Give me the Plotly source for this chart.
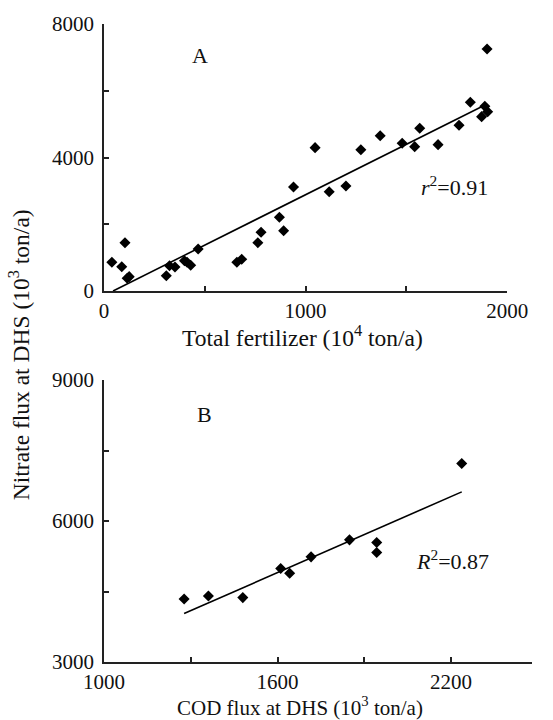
import plotly.graph_objects as go

# Panel A: Total fertilizer (10^4 ton/a) vs Nitrate flux (10^3 ton/a)
fert_x = [39, 88, 104, 115, 125, 309, 325, 352, 399, 412, 430, 467, 659, 683, 763, 779,
          870, 891, 940, 1047, 1117, 1200, 1274, 1370, 1479, 1541, 1566, 1657, 1761, 1817,
          1873, 1889, 1903, 1900]
nitA_y = [859, 729, 1448, 380, 430, 459, 759, 719, 909, 859, 769, 1258, 859, 949, 1448, 1758,
          2207, 1808, 3116, 4295, 2976, 3146, 4235, 4654, 4425, 4325, 4874, 4385, 4964, 5653,
          5224, 5533, 5373, 7251]
fitA_x = [45, 1890]
fitA_y = [0, 5575]

# Panel B: COD flux (10^3 ton/a) vs Nitrate flux (10^3 ton/a)
cod_x = [1277, 1361, 1480, 1611, 1642, 1716, 1849, 1943, 1943, 2237]
nitB_y = [4342, 4406, 4370, 4988, 4889, 5237, 5599, 5542, 5329, 7225]
fitB_x = [1277, 2237]
fitB_y = [4030, 6620]

xA_ticks = [0, 500, 1000, 1500, 2000]
xA_text = ["0", "", "1000", "", "2000"]
yA_ticks = [0, 2000, 4000, 6000, 8000]
yA_text = ["0", "", "4000", "", "8000"]
xB_ticks = [1000, 1300, 1600, 1900, 2200]
xB_text = ["1000", "", "1600", "", "2200"]
yB_ticks = [3000, 4500, 6000, 7500, 9000]
yB_text = ["3000", "", "6000", "", "9000"]

FONT = "Liberation Serif, Times New Roman, DejaVu Serif, serif"
W, H = 553, 720
L, R, T, B = 104, 0, 24, 58
pw, ph = W - L - R, H - T - B

def px(x):
    return (x - L) / pw

def py(y):
    return (H - B - y) / ph

fig = go.Figure()
mk = dict(symbol="diamond", size=8.5, color="black")
fig.add_trace(go.Scatter(x=fert_x, y=nitA_y, mode="markers", marker=mk,
                         xaxis="x", yaxis="y", showlegend=False))
fig.add_trace(go.Scatter(x=fitA_x, y=fitA_y, mode="lines", line=dict(color="black", width=1.6),
                         xaxis="x", yaxis="y", showlegend=False))
fig.add_trace(go.Scatter(x=cod_x, y=nitB_y, mode="markers", marker=mk,
                         xaxis="x2", yaxis="y2", showlegend=False))
fig.add_trace(go.Scatter(x=fitB_x, y=fitB_y, mode="lines", line=dict(color="black", width=1.6),
                         xaxis="x2", yaxis="y2", showlegend=False))

ax = dict(showgrid=False, zeroline=False, showline=True, linecolor="#222", linewidth=1.5,
          ticks="inside", ticklen=5, tickwidth=1.5, tickcolor="#222",
          tickfont=dict(family=FONT, size=21, color="#111"))
xax = dict(ax, ticklabelstandoff=0)
yax = dict(ax, ticklabelstandoff=4)

fig.update_layout(
    width=W, height=H, autosize=False, margin=dict(l=L, r=R, t=T, b=B),
    paper_bgcolor="white", plot_bgcolor="white",
    font=dict(family=FONT, color="#111"),
    xaxis=dict(xax, domain=[0, px(527)], range=[0, 2000], tickvals=xA_ticks, ticktext=xA_text,
               anchor="y"),
    yaxis=dict(yax, domain=[py(291), 1], range=[0, 8000], tickvals=yA_ticks, ticktext=yA_text,
               anchor="x"),
    xaxis2=dict(xax, domain=[0, 1], range=[1000, 2480], tickvals=xB_ticks, ticktext=xB_text,
                anchor="y2"),
    yaxis2=dict(yax, domain=[0, py(380)], range=[3000, 9000], tickvals=yB_ticks, ticktext=yB_text,
                anchor="x2"),
)

lab_font = dict(family=FONT, size=22, color="#111")
common = dict(showarrow=False, xanchor="center", yanchor="middle")
fig.add_annotation(text="A", x=478, y=7071, xref="x", yref="y", font=lab_font, **common)
fig.add_annotation(text="<i>r</i><sup>2</sup>=0.91", x=1739, y=3156, xref="x", yref="y",
                   font=lab_font, **common)
fig.add_annotation(text="B", x=1349, y=8268, xref="x2", yref="y2", font=lab_font, **common)
fig.add_annotation(text="<i>R</i><sup>2</sup>=0.87", x=2204, y=5166, xref="x2", yref="y2",
                   font=lab_font, **common)

fig.add_annotation(text="Total fertilizer (10<sup>4</sup> ton/a)", x=px(312), y=py(336),
                   xref="paper", yref="paper", font=dict(family=FONT, size=23.5, color="#111"),
                   **common)
fig.add_annotation(text="COD flux at DHS (10<sup>3</sup> ton/a)", x=px(310), y=py(706),
                   xref="paper", yref="paper", font=dict(family=FONT, size=21, color="#111"),
                   **common)
fig.add_annotation(text="Nitrate flux at DHS (10<sup>3</sup> ton/a)", x=px(15), y=py(355),
                   xref="paper", yref="paper", textangle=-90,
                   font=dict(family=FONT, size=23.5, color="#111"), **common)

post = ("document.documentElement.style.overflow='hidden';"
        "document.body.style.margin='0';document.body.style.overflow='hidden';"
        "var gd=document.getElementById('{plot_id}');"
        "Plotly.relayout(gd,{width:553,height:720});")
fig.write_html("out.html", config={"displayModeBar": False, "responsive": False},
               post_script=post)
